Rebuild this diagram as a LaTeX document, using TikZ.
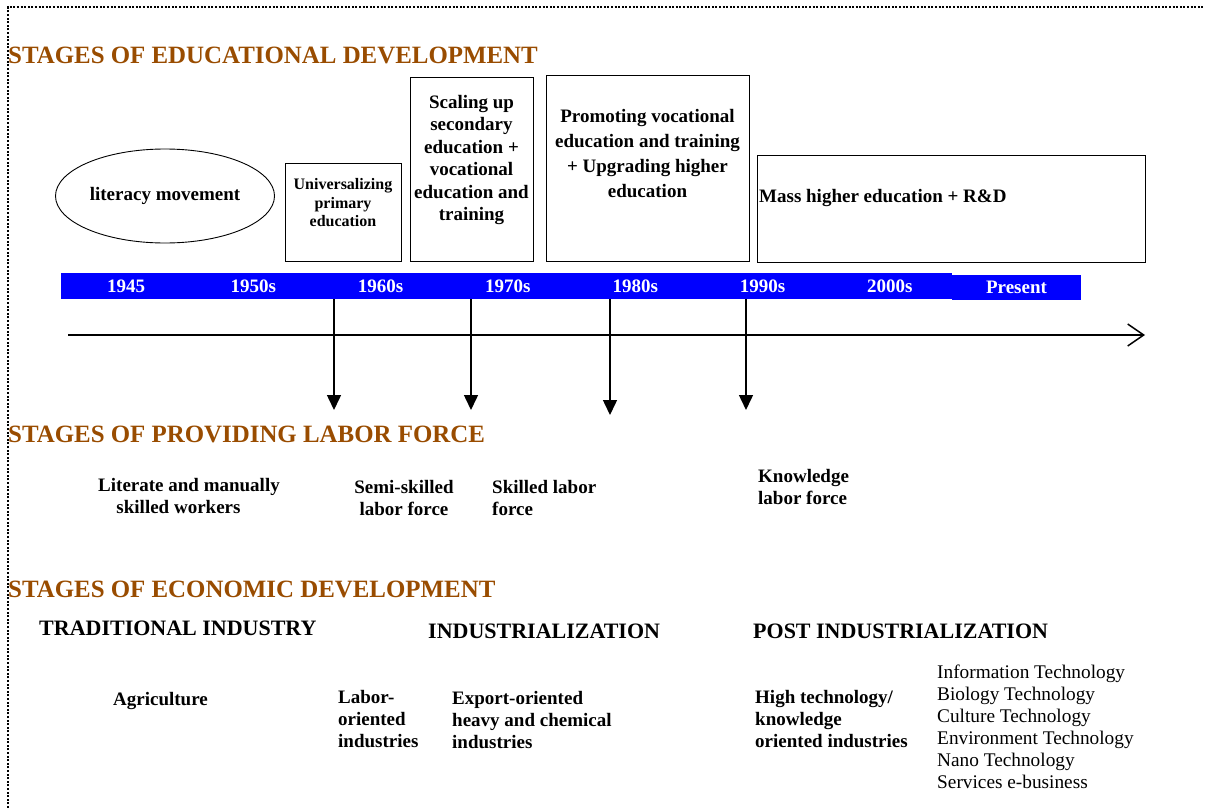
\documentclass[tikz,border=0pt]{standalone}
\usepackage{fontspec}
\setmainfont{Liberation Serif}
\usetikzlibrary{shapes.geometric,arrows.meta}
\definecolor{stagebrown}{RGB}{153,76,0}
\definecolor{barblue}{RGB}{0,0,255}

\begin{document}
\begin{tikzpicture} [
  x=1pt, y=-1pt,
  heading/.style={anchor=west, inner sep=0pt, text=stagebrown,
    font=\bfseries\fontsize{24.9}{28}\selectfont},
  era/.style={anchor=west, inner sep=0pt, font=\bfseries\fontsize{22}{25}\selectfont},
  txt/.style={inner sep=0pt, align=center, font=\bfseries\fontsize{19}{22}\selectfont},
  ltxt/.style={txt, align=left, anchor=west},
  edubox/.style={draw, line width=0.9pt, inner sep=0pt},
  year/.style={text=white, inner sep=0pt, font=\bfseries\fontsize{19}{22}\selectfont},
  downarrow/.style={line width=1.5pt, -{Triangle[length=15pt,width=14pt]}},
  timeline/.style={line width=1.5pt, -{Straight Barb[length=16pt,width=22pt,line width=1.5pt]}}]
\useasboundingbox (0,0) rectangle (1205,808);
\draw[line width=2pt, dash pattern=on 2pt off 1.6pt] (8,808) -- (8,7) -- (1205,7);

\node[heading] (edu head) at (8,55) {STAGES OF EDUCATIONAL DEVELOPMENT};
\node[heading] (labor head) at (8,434) {STAGES OF PROVIDING LABOR FORCE};
\node[heading] (econ head) at (8,589) {STAGES OF ECONOMIC DEVELOPMENT};

% educational stages
\node[edubox, txt, ellipse, minimum width=219pt, minimum height=94pt] (literacy) at (165,196) {literacy movement};
\node[edubox, minimum width=116pt, minimum height=98pt] (primary) at (343,212) {};
\node[txt, font=\bfseries\fontsize{16}{18.5}\selectfont] (primary text) at ([yshift=9pt]primary.center)
  {Universalizing\\primary\\education};
\node[edubox, minimum width=123pt, minimum height=184pt] (secondary) at (471.5,169) {};
\node[txt, font=\bfseries\fontsize{19}{22.4}\selectfont] (secondary text) at ([yshift=9pt]secondary.center)
  {Scaling up\\secondary\\education +\\vocational\\education and\\training};
\node[edubox, minimum width=203pt, minimum height=186pt] (vocational) at (647.5,168) {};
\node[txt, font=\bfseries\fontsize{19}{25}\selectfont] (vocational text) at ([yshift=14pt]vocational.center)
  {Promoting vocational\\education and training\\+ Upgrading higher\\education};
\node[edubox, minimum width=388pt, minimum height=107pt] (higher) at (951,208.5) {};
\node[ltxt] (higher text) at (759,198) {Mass higher education + R\&D};

% time bar
\node[fill=barblue, inner sep=0pt, minimum width=891pt, minimum height=26pt] (bar) at (506.5,286) {};
\node[fill=barblue, year, minimum width=129pt, minimum height=25pt] (present) at (1016.5,287.5) {Present};
\foreach \yr [count=\i from 0] in {1945,1950s,1960s,1970s,1980s,1990s,2000s}
  \node[year] (yr\i) at (126+127.3*\i,286.5) {\yr};

\coordinate (tl start) at (68,335);
\coordinate (tl end) at (1145,335);
\draw[timeline] (tl start) -- (tl end);
\foreach \x/\y [count=\i] in {334/410,471/410,610/415,746/410} {
  \coordinate (tip\i) at (\x,\y);
  \draw[downarrow] (tip\i |- bar.south) -- (tip\i);
}

% labor force
\node[txt] (literate) at (189,496) {Literate and manually\\skilled workers\hspace*{21pt}};
\node[txt] (semi) at (404,498) {Semi-skilled\\labor force};
\node[ltxt] (skilled) at (492,498) {Skilled labor\\force};
\node[ltxt] (knowledge) at (758,487) {Knowledge\\labor force};

% economic development
\node[era] (traditional) at (39,628) {TRADITIONAL INDUSTRY};
\node[era] (industrial) at (428,631) {INDUSTRIALIZATION};
\node[era] (post) at (753,631) {POST INDUSTRIALIZATION};
\node[txt] (agri) at (160.5,701) {Agriculture};
\node[ltxt] (labor ind) at (338,719) {Labor-\\oriented\\industries};
\node[ltxt] (export) at (452,720) {Export-oriented\\heavy and chemical\\industries};
\node[ltxt] (hightech) at (755,719) {High technology/\\knowledge\\oriented industries};
\node[ltxt, font=\fontsize{19.3}{22}\selectfont] (techlist) at (937,727)
  {Information Technology\\Biology Technology\\Culture Technology\\Environment Technology\\Nano Technology\\Services e-business};
\end{tikzpicture}
\end{document}
